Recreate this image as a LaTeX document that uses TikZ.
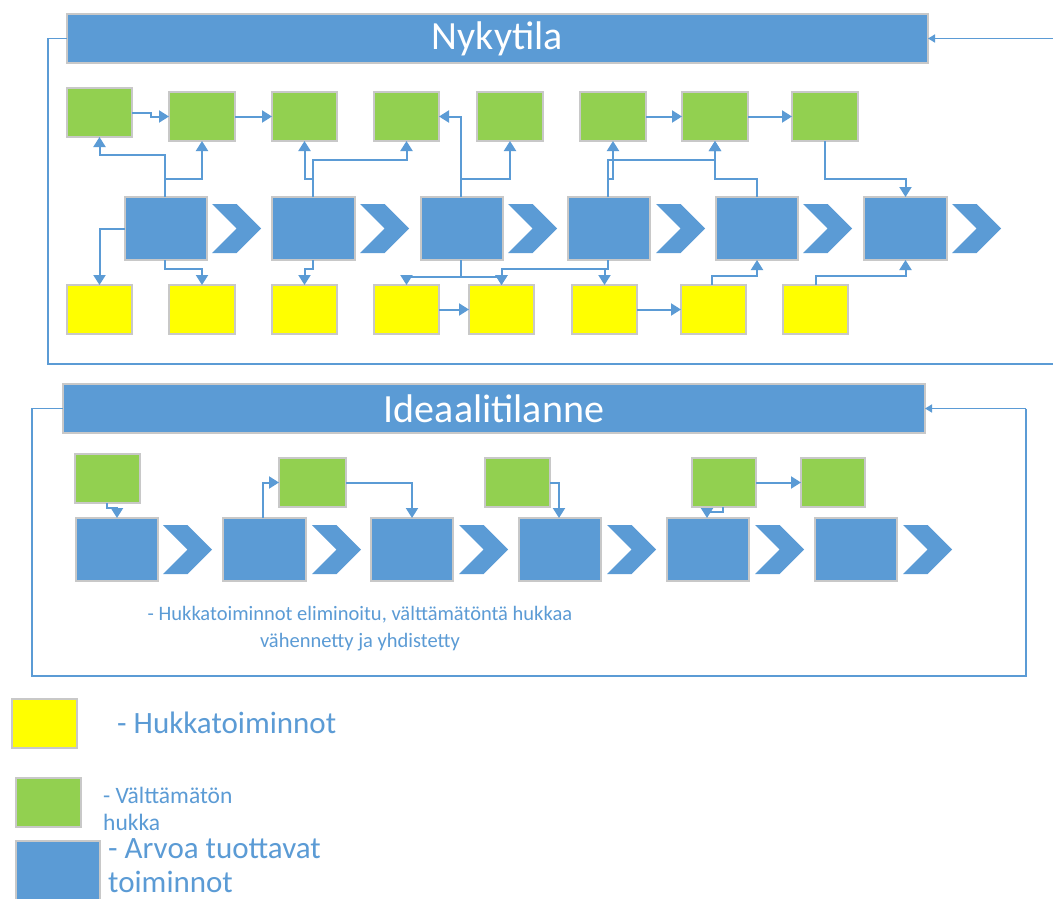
\documentclass[tikz,border=0pt]{standalone}
\usepackage{fontspec}
\setmainfont{Carlito}
\usetikzlibrary{arrows.meta,calc}
\definecolor{vblue}{HTML}{5B9BD5}
\definecolor{vgreen}{HTML}{92D050}
\definecolor{vyellow}{HTML}{FFFF00}
\definecolor{vborder}{HTML}{C8C8C8}
\newcommand\mkbox[6]{\node[#1, minimum width={(#5-#3)*1pt}, minimum height={(#6-#4)*1pt}] (#2) at ({(#3+#5)/2},{(#4+#6)/2}) {};}
\newcommand\mkchev[2]{\fill[vblue] (#1,#2) -- ++(24.5,0) -- ++(24.5,24.5) -- ++(-24.5,24.5) -- ++(-24.5,0) -- ++(24.5,-24.5) -- cycle;}
\tikzset{
  box/.style={draw=vborder, line width=1.2pt, inner sep=0pt, outer sep=0pt},
  gbox/.style={box, fill=vgreen},
  ybox/.style={box, fill=vyellow},
  bluebox/.style={box, fill=vblue},
  hbox/.style={box, fill=vblue, text=white, font=\fontsize{40}{48}\selectfont},
  conn/.style={draw=vblue, line width=2pt, -{Triangle[width=12pt,length=10pt]}},
  thinconn/.style={draw=vblue, line width=1.5pt, -{Triangle[width=8pt,length=7pt]}},
  link/.style={draw=vblue, line width=1.5pt},
  lbl/.style={text=vblue, inner sep=0pt}
}
\begin{document}
\begin{tikzpicture}[x=1pt,y=-1pt]
\useasboundingbox (0,0) rectangle (1053,899);
\fill[white] (0,0) rectangle (1053,899);

% ---------- Nykytila ----------
\node[hbox, minimum width=861pt, minimum height=49pt] (hN) at (497.5,38.5) {Nykytila};
\coordinate (rN) at (1053,38.5);
\coordinate (fN) at (1053,364);
\draw[thinconn] (rN) -- (hN.east);
\draw[link] (hN.west) -- (48,38.5) -- (48,364) -- (fN);

% green row
\mkbox{gbox}{G1}{67}{88}{132}{137}
\mkbox{gbox}{G2}{169}{92}{235}{141}
\mkbox{gbox}{G3}{272}{92}{337}{141}
\mkbox{gbox}{G4}{374}{92}{439}{141}
\mkbox{gbox}{G5}{477}{92}{543}{141}
\mkbox{gbox}{G6}{580}{92}{646}{141}
\mkbox{gbox}{G7}{682}{92}{748}{141}
\mkbox{gbox}{G8}{792}{92}{858}{141}
% blue row
\mkbox{bluebox}{B1}{125}{197}{207}{260}
\mkbox{bluebox}{B2}{272}{197}{355}{260}
\mkbox{bluebox}{B3}{421}{197}{503}{260}
\mkbox{bluebox}{B4}{568}{197}{650}{260}
\mkbox{bluebox}{B5}{716}{197}{798}{260}
\mkbox{bluebox}{B6}{864}{197}{947}{260}
\mkchev{212}{204}
\mkchev{360}{204}
\mkchev{508}{204}
\mkchev{656}{204}
\mkchev{803}{204}
\mkchev{952}{204}
% yellow row
\mkbox{ybox}{Y1}{67}{285}{132}{334}
\mkbox{ybox}{Y2}{169}{285}{235}{334}
\mkbox{ybox}{Y3}{272}{285}{337}{334}
\mkbox{ybox}{Y4}{374}{285}{439}{334}
\mkbox{ybox}{Y5}{469}{285}{534}{334}
\mkbox{ybox}{Y6}{572}{285}{637}{334}
\mkbox{ybox}{Y7}{681}{285}{746}{334}
\mkbox{ybox}{Y8}{783}{285}{848}{334}

% connectors top
\draw[conn] (G1.east) -- (151,0 |- G1.east) |- (G2.west);
\draw[conn] (G2.east) -- (G3.west);
\draw[conn] (165,0 |- B1.north) -- (165,155) -| (G1.south);
\draw[conn] (165,0 |- B1.north) -- (165,179) -| (G2.south);
\draw[conn] (B1.west) -| (Y1.north);
\draw[conn] (165,0 |- B1.south) -- (165,269) -| (Y2.north);
\draw[conn] (313,0 |- B2.north) -- (313,160) -| (G4.south);
\draw[conn] (313,0 |- B2.north) -- (313,179) -| (G3.south);
\draw[conn] (313,0 |- B2.south) -- (313,269) -| (Y3.north);
\draw[conn] (461,0 |- B3.north) |- (G4.east);
\draw[conn] (461,0 |- B3.north) -- (461,179) -| (G5.south);
\draw[conn] (461,0 |- B3.south) -- (461,277) -| (Y4.north);
\draw[conn] (461,0 |- B3.south) -- (461,277) -| (Y5.north);
\draw[conn] (608,0 |- B4.south) -- (608,269) -| (Y5.north);
\draw[conn] (608,0 |- B4.south) -- (608,269) -| (Y6.north);
\draw[conn] (Y4.east) -- (Y5.west);
\draw[conn] (608,0 |- B4.north) -- (608,179) -| (G6.south);
\draw[conn] (608,0 |- B4.north) -- (608,160) -| (G7.south);
\draw[conn] (757,0 |- B5.north) -- (757,179) -| (G7.south);
\draw[conn] (G6.east) -- (G7.west);
\draw[conn] (G7.east) -- (G8.west);
\draw[conn] (825,0 |- G8.south) -- (825,179) -| (B6.north);
\draw[conn] (Y6.east) -- (Y7.west);
\draw[conn] (712,0 |- Y7.north) -- (712,276) -| (757,0 |- B5.south);
\draw[conn] (816,0 |- Y8.north) -- (816,276) -| (B6.south);

% ---------- Ideaalitilanne ----------
\node[hbox, minimum width=862pt, minimum height=49pt] (hI) at (494,408.5) {Ideaalitilanne};
\coordinate (fI) at (1026,408.5);
\draw[link] (hI.west) -- (32,408.5) -- (32,676) -- (1026,676) -- (fI);
\draw[thinconn] (fI) -- (hI.east);

\mkbox{gbox}{IG1}{75}{454}{140}{503}
\mkbox{gbox}{IG2}{279}{458}{346}{507}
\mkbox{gbox}{IG3}{485}{458}{550}{507}
\mkbox{gbox}{IG4}{692}{458}{756}{507}
\mkbox{gbox}{IG5}{801}{458}{865}{507}
\mkbox{bluebox}{IB1}{76}{518}{158}{581}
\mkbox{bluebox}{IB2}{223}{518}{306}{581}
\mkbox{bluebox}{IB3}{371}{518}{453}{581}
\mkbox{bluebox}{IB4}{519}{518}{601}{581}
\mkbox{bluebox}{IB5}{667}{518}{749}{581}
\mkbox{bluebox}{IB6}{815}{518}{897}{581}
\mkchev{163}{525}
\mkchev{312}{525}
\mkchev{459}{525}
\mkchev{607}{525}
\mkchev{755}{525}
\mkchev{903}{525}

\draw[conn] (107,0 |- IG1.south) -- (107,508) -| (117,0 |- IB1.north);
\draw[conn] (263,0 |- IB2.north) |- (IG2.west);
\draw[conn] (IG2.east) -| (412,0 |- IB3.north);
\draw[conn] (IG3.east) -| (559,0 |- IB4.north);
\draw[conn] (723,0 |- IG4.south) -- (723,512) -| (707,0 |- IB5.north);
\draw[conn] (IG4.east) -- (IG5.west);

\node[lbl, align=center, font=\fontsize{20.5}{27}\selectfont] (note) at (360,629)
  {- Hukkatoiminnot eliminoitu, välttämätöntä hukkaa\\vähennetty ja yhdistetty};

% ---------- legend ----------
\mkbox{ybox}{L1}{12}{699}{77}{748}
\mkbox{gbox}{L2}{16}{778}{81}{827}
\mkbox{bluebox}{L3}{16}{841}{100}{910}
\node[lbl, anchor=west, font=\fontsize{31}{36}\selectfont] (t1) at (117,723) {- Hukkatoiminnot};
\node[lbl, anchor=west, align=left, font=\fontsize{23.5}{27}\selectfont] (t2) at (103,809) {- Välttämätön\\hukka};
\node[lbl, anchor=west, align=left, font=\fontsize{31}{34}\selectfont] (t3) at (108,866) {- Arvoa tuottavat\\toiminnot};
\end{tikzpicture}
\end{document}
